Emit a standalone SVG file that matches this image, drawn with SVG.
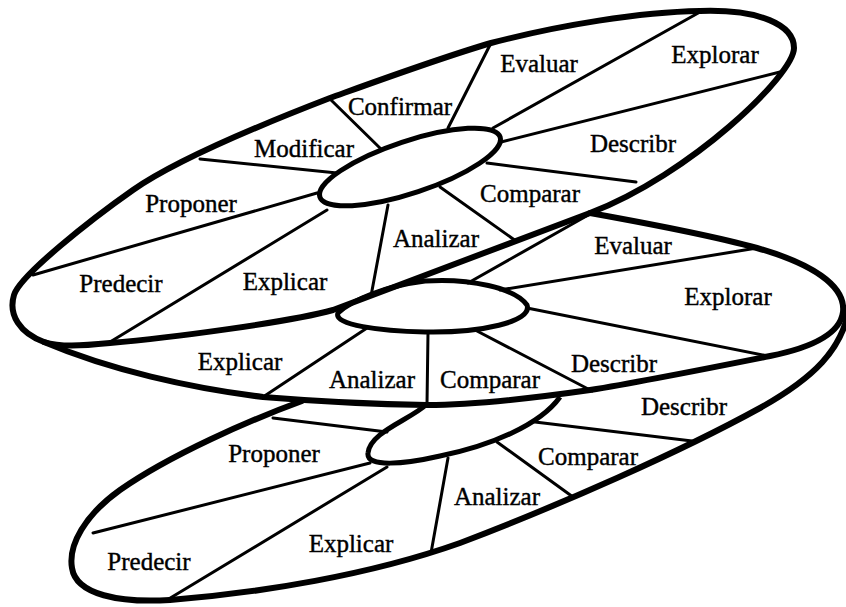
<svg xmlns="http://www.w3.org/2000/svg" width="846" height="607" viewBox="0 0 846 607">
<style>
.rim{fill:none;stroke:#000;stroke-width:6;stroke-linecap:round;stroke-linejoin:round}
.hub{fill:none;stroke:#000;stroke-width:5;stroke-linejoin:round}
.spoke{fill:none;stroke:#000;stroke-width:3;stroke-linecap:round}
.lbl{font-family:'Liberation Serif','DejaVu Serif',serif;font-size:25px;fill:#000;stroke:#000;stroke-width:0.4;text-anchor:middle}
</style>
<rect width="846" height="607" fill="#fff"/>
<g id="disc-bottom">
<path class="rim" d="M302 401 C250 420 170 455 120 490 C85 515 68 545 72 568 C76 595 120 603 170 600 C260 593 370 575 460 543 C560 505 680 452 760 408 C810 380 846 350 850 300"/>
<path class="hub" d="M427 404 C410 420 370 432 368 453 C366 468 405 464 440 456 C490 446 540 425 560 397"/>
</g>
<g id="disc-middle">
<path class="rim" d="M590 213 C640 222 710 235 757 248 C810 263 846 285 843 312 C840 335 810 348 770 356 C700 370 640 382 590 390 C520 400 470 405 427 405 C350 404 300 400 263 397 C190 388 110 370 44 342"/>
<path class="hub" d="M338 313 C352 300 385 286 425 281 C470 278 515 288 527 305 C533 322 480 333 425 332 C380 331 333 325 338 313 Z"/>
</g>
<g id="disc-top">
<path class="rim" d="M44 342 C20 333 8 315 14 295 C20 275 93 218 133 190 C173 162 260 125 330 98 C380 80 440 58 491 43 C560 25 640 12 700 11 C760 9 794 25 794 48 C794 75 690 175 590 213 L333 310 C290 322 170 338 110 343 C80 346 60 347 44 342 Z"/>
<ellipse class="hub" cx="410" cy="167" rx="95" ry="26" transform="rotate(-18.4 410 167)"/>
</g>
<g id="connectors">
<line class="spoke" x1="382" y1="150" x2="330" y2="99"/>
<line class="spoke" x1="337" y1="173" x2="200" y2="159"/>
<line class="spoke" x1="317" y1="193" x2="33" y2="275"/>
<line class="spoke" x1="327" y1="210" x2="110" y2="342"/>
<line class="spoke" x1="388" y1="205" x2="371" y2="296"/>
<line class="spoke" x1="440" y1="187" x2="516" y2="241"/>
<line class="spoke" x1="487" y1="163" x2="636" y2="182"/>
<line class="spoke" x1="501" y1="142" x2="780" y2="72"/>
<line class="spoke" x1="493" y1="128" x2="700" y2="12"/>
<line class="spoke" x1="448" y1="128" x2="491" y2="43"/>
<line class="spoke" x1="468" y1="283" x2="590" y2="214"/>
<line class="spoke" x1="500" y1="290" x2="757" y2="248"/>
<line class="spoke" x1="527" y1="308" x2="768" y2="356"/>
<line class="spoke" x1="477" y1="331" x2="592" y2="391"/>
<line class="spoke" x1="428" y1="333" x2="427" y2="404"/>
<line class="spoke" x1="367" y1="328" x2="263" y2="397"/>
<line class="spoke" x1="273" y1="418" x2="387" y2="432"/>
<line class="spoke" x1="370" y1="463" x2="93" y2="533"/>
<line class="spoke" x1="387" y1="467" x2="167" y2="600"/>
<line class="spoke" x1="448" y1="458" x2="431" y2="553"/>
<line class="spoke" x1="497" y1="442" x2="573" y2="497"/>
<line class="spoke" x1="535" y1="422" x2="692" y2="441"/>
</g>
<g id="labels" font-family="'Liberation Serif', serif">
<text class="lbl" x="400" y="115">Confirmar</text>
<text class="lbl" x="539" y="72">Evaluar</text>
<text class="lbl" x="715" y="63">Explorar</text>
<text class="lbl" x="633" y="152">Describr</text>
<text class="lbl" x="530" y="202">Comparar</text>
<text class="lbl" x="436" y="247">Analizar</text>
<text class="lbl" x="285" y="290">Explicar</text>
<text class="lbl" x="121" y="292">Predecir</text>
<text class="lbl" x="191" y="212">Proponer</text>
<text class="lbl" x="304" y="157">Modificar</text>
<text class="lbl" x="633" y="254">Evaluar</text>
<text class="lbl" x="728" y="305">Explorar</text>
<text class="lbl" x="614" y="372">Describr</text>
<text class="lbl" x="490" y="388">Comparar</text>
<text class="lbl" x="372" y="388">Analizar</text>
<text class="lbl" x="240" y="370">Explicar</text>
<text class="lbl" x="684" y="415">Describr</text>
<text class="lbl" x="588" y="465">Comparar</text>
<text class="lbl" x="497" y="505">Analizar</text>
<text class="lbl" x="351" y="552">Explicar</text>
<text class="lbl" x="149" y="570">Predecir</text>
<text class="lbl" x="274" y="462">Proponer</text>
</g>
</svg>
